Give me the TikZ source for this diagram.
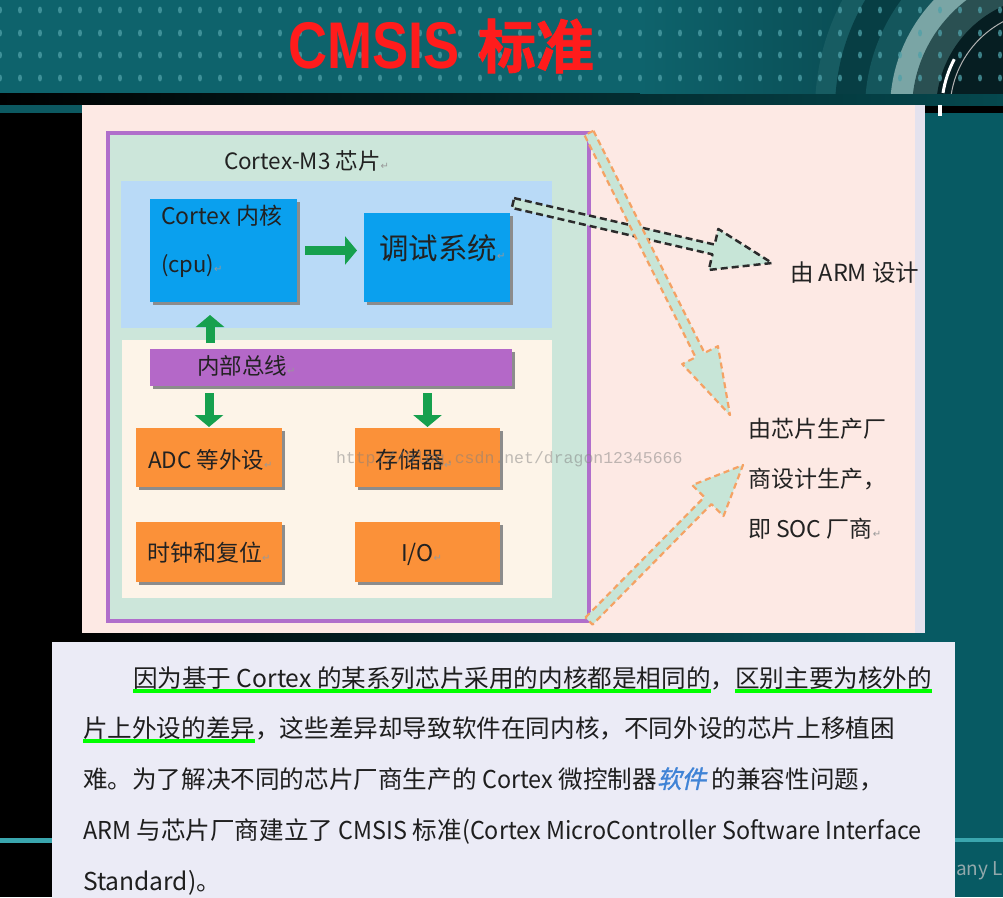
\documentclass[tikz,border=0pt]{standalone}
\usepackage{fontspec}
\setmainfont{Noto Sans CJK SC}
\newfontfamily\titlefont{Liberation Sans}
\newfontfamily\cjkbold[FakeBold=1.5]{Noto Sans CJK SC Bold}
\newfontfamily\slantcjk[FakeSlant=0.22,FakeBold=1.2]{Noto Sans CJK SC}
\newfontfamily\latn[FakeStretch=0.95]{Noto Sans CJK SC}
\newfontfamily\djv{DejaVu Sans}
\newfontfamily\wmfont{Liberation Mono}
\usetikzlibrary{calc,shadows,arrows.meta}
\definecolor{hdrA}{HTML}{0E636C}
\definecolor{hdrB}{HTML}{073E44}
\definecolor{dotc}{HTML}{4FA0A8}
\definecolor{ringfaint}{HTML}{175C62}
\definecolor{ringlight}{HTML}{7AA5A5}
\definecolor{ringdark}{HTML}{2A5052}
\definecolor{ringin}{HTML}{061E22}
\definecolor{bandR}{HTML}{05484E}
\definecolor{tealR}{HTML}{075A63}
\definecolor{tealline}{HTML}{3AA6AE}
\definecolor{slidec}{HTML}{FDE9E4}
\definecolor{slideedge}{HTML}{E4E2EE}
\definecolor{chipfill}{HTML}{CCE6DA}
\definecolor{chipdraw}{HTML}{B06ECB}
\definecolor{corefill}{HTML}{B9DAF7}
\definecolor{cpufill}{HTML}{0AA0EE}
\definecolor{creamfill}{HTML}{FDF4E8}
\definecolor{busfill}{HTML}{B468C8}
\definecolor{orangefill}{HTML}{FB9139}
\definecolor{shadowc}{HTML}{8C8C8C}
\definecolor{garrowc}{HTML}{16A04E}
\definecolor{blkfill}{HTML}{C7E5D7}
\definecolor{blkdash}{HTML}{2B2B2B}
\definecolor{oradash}{HTML}{F5A264}
\definecolor{panelc}{HTML}{EBEBF6}
\definecolor{bodytxt}{HTML}{1E1E1E}
\definecolor{bluesoft}{HTML}{3F83D6}
\definecolor{ulc}{HTML}{00FF00}
\definecolor{titlered}{HTML}{FF1C1C}
\definecolor{lbltxt}{HTML}{222222}
\newcommand{\retm}{{\djv\fontsize{10}{10}\selectfont\color{gray!80}↵}}
\newcommand{\blkarrow}[6]{%
  \coordinate (bb) at ($(#2)!#5!(#1)$);
  \draw[#6] ($(#1)!#3!90:(#2)$) -- ($(bb)!#3!90:(#2)$) -- ($(bb)!#4!90:(#2)$) -- (#2)
    -- ($(bb)!#4!-90:(#2)$) -- ($(bb)!#3!-90:(#2)$) -- ($(#1)!#3!-90:(#2)$) -- cycle;}
\tikzset{
  area/.style={draw=none, inner sep=0pt, outer sep=0pt, anchor=north west},
  sbox/.style={area, drop shadow={shadow xshift=3pt, shadow yshift=-3pt, fill=shadowc, opacity=1}},
  lbl/.style={inner sep=0pt, outer sep=0pt, text=lbltxt, anchor=west},
  garrow/.style={draw=garrowc, line width=9pt, -{Triangle[length=12pt,width=28pt]}},
  armarrow/.style={fill=blkfill, draw=blkdash, line width=2.5pt, dash pattern=on 7pt off 4pt, line join=round},
  orarrow/.style={fill=blkfill, draw=oradash, line width=2.2pt, dash pattern=on 6pt off 4pt, line join=round},
  body/.style={anchor=base west, inner sep=0pt, outer sep=0pt, font=\fontsize{24.6}{30}\selectfont, text=bodytxt},
  uline/.style={draw=ulc, line width=4pt}
}
\begin{document}
\begin{tikzpicture}[x=1pt,y=-1pt]
\useasboundingbox (0,0) rectangle (1003,897);
% ---------- background ----------
\fill[black] (0,0) rectangle (1003,897);
\fill[tealR] (925,113) rectangle (1003,897);
\shade[left color=black, right color=bandR] (0,93) rectangle (1003,105);
\fill[hdrA!90!black] (0,105) rectangle (82,113);
\fill[white] (938,105) rectangle (942,116);
\fill[tealline] (0,838) rectangle (52,843);
\fill[tealline] (955,838) rectangle (1003,842);
\shade[left color=black, right color=tealR] (82,633) rectangle (925,642);
% ---------- header ----------
\begin{scope}
  \clip (0,0) rectangle (1003,93);
  \fill[hdrA] (0,0) rectangle (640,93);
  \shade[left color=hdrA, right color=hdrB] (640,0) rectangle (1003,93);
  \fill[ringfaint] (1050,110) circle[radius=235];
  \fill[hdrB] (1050,110) circle[radius=215];
  \fill[ringfaint!80!hdrB] (1050,110) circle[radius=185];
  \fill[ringlight] (1050,110) circle[radius=160];
  \fill[ringdark] (1050,110) circle[radius=138];
  \fill[ringin] (1050,110) circle[radius=114];
  \draw[gray!60, line width=1pt] (1050,110) circle[radius=100];
  \draw[white, line width=3pt] (943,93) arc[start angle=189, end angle=208, radius=108];
  \foreach \i in {0,...,50}
    \foreach \j in {10,33,55,78}
      \fill[dotc, opacity=0.75] (\i*20,\j) ellipse[x radius=2, y radius=3.5];
\end{scope}
\node[inner sep=0pt, anchor=base west, text=titlered] (t1) at (288,68)
  {\titlefont\bfseries\fontsize{66}{66}\selectfont\scalebox{0.82}[1]{CMSIS}};
\node[inner sep=0pt, anchor=base west, text=titlered] (t2) at ([xshift=18pt]t1.base east)
  {\cjkbold\fontsize{58}{58}\selectfont 标准};
% ---------- slide panel ----------
\node[area, fill=slideedge, minimum width=843, minimum height=528] (slide) at (82,105) {};
\fill[slidec] (82,105) rectangle (915,633);
% chip
\node[area, fill=chipfill, draw=chipdraw, line width=4pt, minimum width=481, minimum height=488] (chip) at (108,133) {};
\node[lbl, font=\fontsize{22.5}{22}\selectfont] (chiplab) at (224,161) {Cortex-M3 芯片\retm};
\node[area, fill=corefill, minimum width=431, minimum height=147] (core) at (121,181) {};
\node[area, fill=creamfill, minimum width=430, minimum height=258] (periph) at (122,340) {};
\node[sbox, fill=cpufill, minimum width=147, minimum height=103] (cpu) at (150,199) {};
\node[lbl, font=\fontsize{23}{23}\selectfont] (cpu1) at (161,216) {Cortex 内核};
\node[lbl, font=\fontsize{22}{22}\selectfont] (cpu2) at (161,266) {(cpu)\retm};
\node[sbox, fill=cpufill, minimum width=146, minimum height=89] (dbg) at (364,213) {};
\node[lbl, font=\fontsize{29.5}{29}\selectfont] (dbgtxt) at (379,248) {调试系统\retm};
\node[sbox, fill=busfill, minimum width=362, minimum height=37] (bus) at (150,349) {};
\node[lbl, font=\fontsize{22.5}{22}\selectfont] (bustxt) at (197,366) {内部总线\retm};
\node[sbox, fill=orangefill, minimum width=146, minimum height=59] (adc) at (136,428) {};
\node[lbl, font=\fontsize{22.5}{22}\selectfont] (adctxt) at (148,460) {ADC 等外设\retm};
\node[sbox, fill=orangefill, minimum width=145, minimum height=59] (mem) at (355,428) {};
\node[lbl, font=\fontsize{23}{22}\selectfont] (memtxt) at (375,460) {存储器\retm};
\node[sbox, fill=orangefill, minimum width=146, minimum height=60] (clk) at (136,522) {};
\node[lbl, font=\fontsize{23}{22}\selectfont] (clktxt) at (147,553) {时钟和复位\retm};
\node[sbox, fill=orangefill, minimum width=145, minimum height=60] (io) at (355,522) {};
\node[lbl, font=\fontsize{23}{22}\selectfont] (iotxt) at (401,554) {I/O\retm};
% green arrows
\coordinate (upx) at (210,0);
\draw[garrow, shorten <=8pt, shorten >=7pt] (cpu.east) -- (cpu.east -| dbg.west);
\draw[garrow, shorten <=6pt, shorten >=13pt] (bus.north -| upx) -- (cpu.south -| upx);
\draw[garrow, shorten <=7pt, shorten >=1pt] (bus.south -| adc.north) -- (adc.north);
\draw[garrow, shorten <=7pt, shorten >=1pt] (bus.south -| mem.north) -- (mem.north);
% right labels
\node[lbl, font=\fontsize{23.5}{23}\selectfont] (armlab) at (790,273) {由 ARM 设计};
\node[lbl, font=\fontsize{23}{50}\selectfont, align=left] (soclab) at (748,479) {由芯片生产厂\\商设计生产，\\即 SOC 厂商\retm};
% dashed block arrows
\coordinate (armt) at (513,203);
\coordinate (armh) at (772,263);
\coordinate (tipB) at (730,415);
\coordinate (tipC) at (743,465);
\blkarrow{armt}{armh}{5pt}{21pt}{60pt}{armarrow}
\blkarrow{chip.north east}{tipB}{5pt}{20pt}{67pt}{orarrow}
\blkarrow{chip.south east}{tipC}{5pt}{22pt}{50pt}{orarrow}
% watermark
\node[lbl, anchor=west, text=gray, opacity=0.5, font=\wmfont\fontsize{16.5}{16.5}\selectfont] (wm) at (336,459) {http://blog.csdn.net/dragon12345666};
% ---------- text panel ----------
\node[area, fill=panelc, minimum width=903, minimum height=260] (panel) at (52,642) {};
\node[body] (l1a) at (133,687) {因为基于 Cortex 的某系列芯片采用的内核都是相同的};
\node[body] (l1c) at (l1a.base east) {，};
\node[body] (l1b) at (l1c.base east) {区别主要为核外的};
\node[body] (l2a) at (83,737) {片上外设的差异};
\node[body] (l2b) at (l2a.base east) {，这些差异却导致软件在同内核，不同外设的芯片上移植困};
\node[body] (l3) at (83,788) {难。为了解决不同的芯片厂商生产的 {\latn Cortex} 微控制器{\slantcjk\color{bluesoft}软件} 的兼容性问题，};
\node[body] (l4) at (83,839) {{\latn ARM} 与芯片厂商建立了 {\latn CMSIS} 标准{\latn(Cortex MicroController Software Interface}};
\node[body] (l5) at (83,890) {Standard)。};
\draw[uline] ([yshift=-4pt]l1a.base west) -- ([yshift=-4pt]l1a.base east);
\draw[uline] ([yshift=-4pt]l1b.base west) -- ([yshift=-4pt]l1b.base east);
\draw[uline] ([yshift=-4pt]l2a.base west) -- ([yshift=-4pt]l2a.base east);
\node[lbl, text=gray!55!tealR!60!white, font=\fontsize{19}{19}\selectfont] (anyl) at (956,871) {any L};
\end{tikzpicture}
\end{document}
